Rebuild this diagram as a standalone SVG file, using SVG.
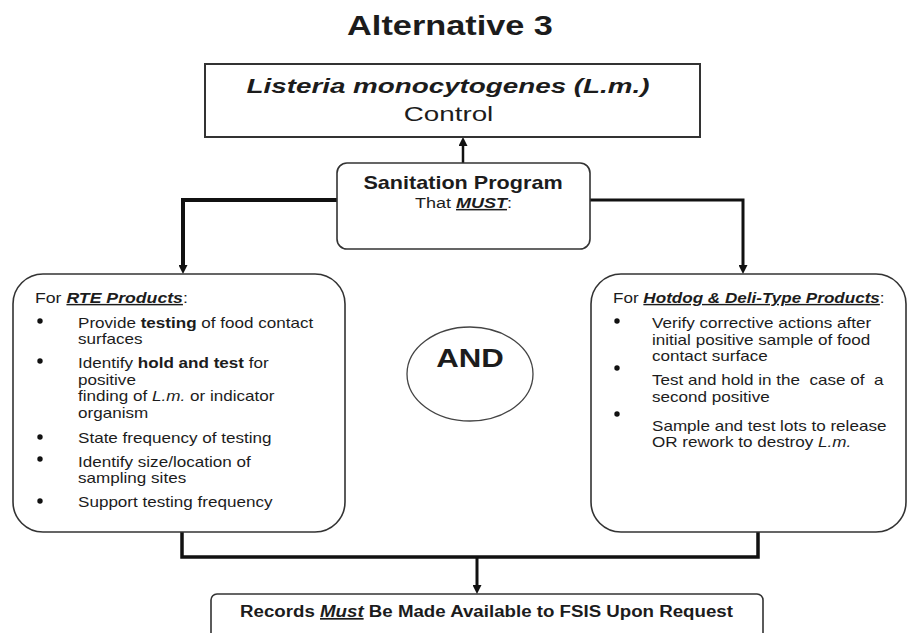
<svg xmlns="http://www.w3.org/2000/svg" width="909" height="633" viewBox="0 0 909 633">
<style>
text{font-family:"Liberation Sans",Arial,sans-serif;fill:#1c1c1c}
.box{fill:#fff;stroke:#333;stroke-width:1.6}
.conn{fill:none;stroke:#111;stroke-linejoin:miter}
.b{font-weight:bold}
.i{font-style:italic}
.u{text-decoration:underline}
.t14{font-size:14px}
.bul{fill:#111}
</style>
<defs>
<marker id="ah" viewBox="0 0 10 10" markerWidth="9" markerHeight="9" refX="4" refY="5" orient="auto" markerUnits="userSpaceOnUse">
<path d="M0,0 L10,5 L0,10 z" fill="#111"/>
</marker>
</defs>
<rect width="909" height="633" fill="#fff"/>

<g id="title">
<text transform="translate(450,35) scale(1.27,1)" text-anchor="middle" class="b" style="font-size:27px">Alternative 3</text>
</g>

<g id="connectors">
<path class="conn" style="stroke-width:2.5" d="M463,163 V142.4" marker-end="url(#ah)"/>
<path class="conn" style="stroke-width:4" d="M337,200 H183 V268.6" marker-end="url(#ah)"/>
<path class="conn" style="stroke-width:3" d="M590,200 H743 V268.6" marker-end="url(#ah)"/>
<path class="conn" style="stroke-width:3.5" d="M182,532 V557 H758 V532"/>
<path class="conn" style="stroke-width:3" d="M477,557 V588.6" marker-end="url(#ah)"/>
</g>

<g id="control">
<rect class="box" x="205" y="64" width="495" height="73" style="stroke-width:2"/>
<text transform="translate(448,93) scale(1.39,1)" text-anchor="middle" class="b i" style="font-size:20px">Listeria monocytogenes (L.m.)</text>
<text transform="translate(448.5,121) scale(1.39,1)" text-anchor="middle" style="font-size:20px">Control</text>
</g>

<g id="sanitation">
<rect class="box" x="337" y="163" width="253" height="86" rx="10"/>
<text transform="translate(463,189) scale(1.2,1)" text-anchor="middle" class="b" style="font-size:18px">Sanitation Program</text>
<text transform="translate(463.5,208) scale(1.2,1)" text-anchor="middle" style="font-size:15px">That <tspan class="b i u">MUST</tspan>:</text>
</g>

<g id="rte">
<path class="box" d="M43,274 H315 A30,30 0 0 1 345,304 V502 A30,30 0 0 1 315,532 H43 A30,30 0 0 1 13,502 V304 A30,30 0 0 1 43,274 Z"/>
<text class="t14" transform="translate(35,303) scale(1.22,1)" style="font-size:14.5px">For <tspan class="i u b">RTE Products</tspan>:</text>
<circle class="bul" cx="40" cy="321" r="2.7"/>
<text class="t14" transform="translate(78,328) scale(1.22,1)">Provide <tspan class="b">testing</tspan> of food contact</text>
<text class="t14" transform="translate(78,344) scale(1.22,1)">surfaces</text>
<circle class="bul" cx="40" cy="361" r="2.7"/>
<text class="t14" transform="translate(78,368) scale(1.22,1)">Identify <tspan class="b">hold and test</tspan> for</text>
<text class="t14" transform="translate(78,385) scale(1.22,1)">positive</text>
<text class="t14" transform="translate(78,401) scale(1.22,1)">finding of <tspan class="i">L.m.</tspan> or indicator</text>
<text class="t14" transform="translate(78,418) scale(1.22,1)">organism</text>
<circle class="bul" cx="40" cy="437" r="2.7"/>
<text class="t14" transform="translate(78,443) scale(1.22,1)">State frequency of testing</text>
<circle class="bul" cx="40" cy="459" r="2.7"/>
<text class="t14" transform="translate(78,467) scale(1.22,1)">Identify size/location of</text>
<text class="t14" transform="translate(78,483) scale(1.22,1)">sampling sites</text>
<circle class="bul" cx="40" cy="501" r="2.7"/>
<text class="t14" transform="translate(78,507) scale(1.22,1)">Support testing frequency</text>
</g>

<g id="and">
<ellipse cx="470" cy="374" rx="63" ry="47" fill="#fff" stroke="#444" stroke-width="1.3"/>
<text transform="translate(470,367) scale(1.2,1)" text-anchor="middle" class="b" style="font-size:26px">AND</text>
</g>

<g id="hotdog">
<path class="box" d="M621,274 H876 A30,30 0 0 1 906,304 V502 A30,30 0 0 1 876,532 H621 A30,30 0 0 1 591,502 V304 A30,30 0 0 1 621,274 Z"/>
<text class="t14" transform="translate(613,303) scale(1.22,1)">For <tspan class="b i u">Hotdog &amp; Deli-Type Products</tspan>:</text>
<circle class="bul" cx="617" cy="321" r="2.7"/>
<text class="t14" transform="translate(652,328) scale(1.22,1)">Verify corrective actions after</text>
<text class="t14" transform="translate(652,345) scale(1.22,1)">initial positive sample of food</text>
<text class="t14" transform="translate(652,361) scale(1.22,1)">contact surface</text>
<circle class="bul" cx="617" cy="368" r="2.7"/>
<text class="t14" transform="translate(652,385) scale(1.22,1)" xml:space="preserve">Test and hold in the  case of  a</text>
<text class="t14" transform="translate(652,402) scale(1.22,1)">second positive</text>
<circle class="bul" cx="617" cy="414" r="2.7"/>
<text class="t14" transform="translate(652,431) scale(1.22,1)">Sample and test lots to release</text>
<text class="t14" transform="translate(652,447) scale(1.22,1)">OR rework to destroy <tspan class="i">L.m.</tspan></text>
</g>

<g id="records">
<rect class="box" x="211" y="594" width="552" height="60" rx="6"/>
<text transform="translate(486.5,617) scale(1.1,1)" text-anchor="middle" class="b" style="font-size:17px">Records <tspan class="i u">Must</tspan> Be Made Available to FSIS Upon Request</text>
</g>
</svg>
